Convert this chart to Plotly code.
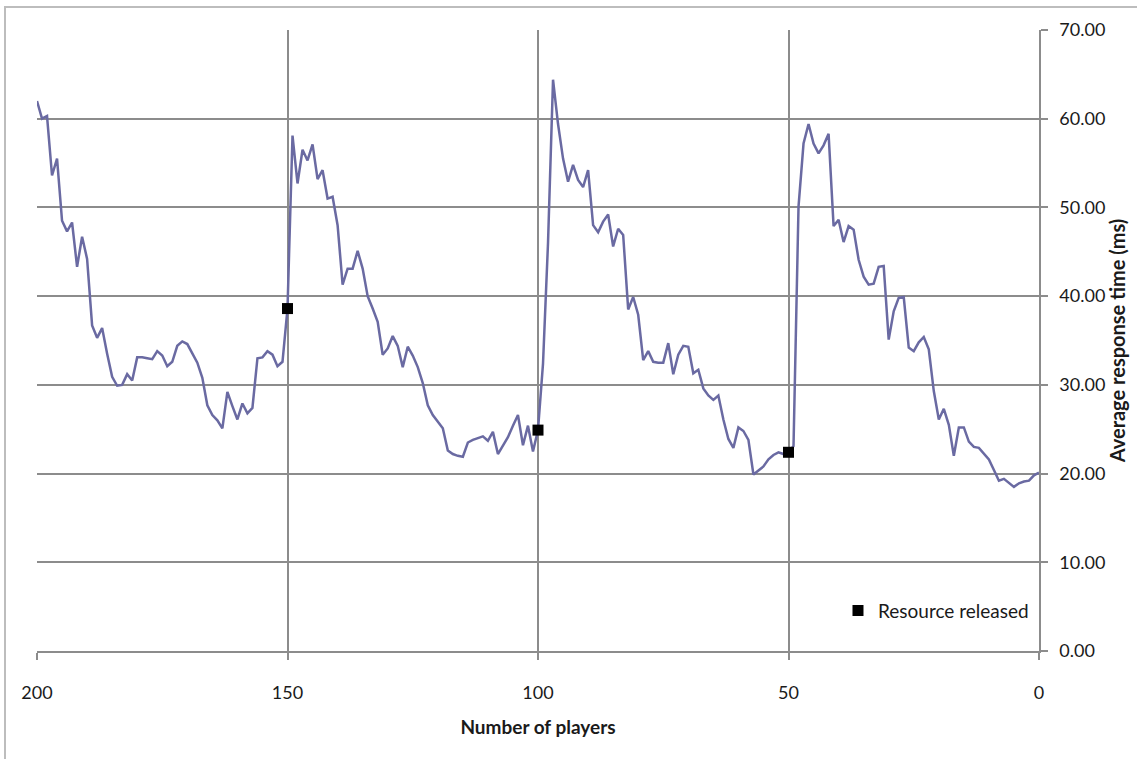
import plotly.graph_objects as go

# Number of players (counting down from 200 to 0)
players = list(range(200, -1, -1))

# Average response time (ms) at each player count, 200 -> 0
response_ms = [
    62.0, 60.0, 60.3, 53.6, 55.5, 48.5, 47.3, 48.3, 43.3, 46.7,   # 200-191
    44.2, 36.7, 35.3, 36.4, 33.5, 30.9, 29.9, 30.0, 31.2, 30.5,   # 190-181
    33.1, 33.1, 33.0, 32.9, 33.8, 33.3, 32.1, 32.6, 34.4, 34.9,   # 180-171
    34.6, 33.6, 32.5, 30.8, 27.7, 26.6, 26.0, 25.1, 29.2, 27.6,   # 170-161
    26.1, 27.9, 26.8, 27.4, 33.0, 33.1, 33.8, 33.4, 32.1, 32.6,   # 160-151
    38.6, 58.1, 52.7, 56.5, 55.3, 57.1, 53.2, 54.2, 51.0, 51.2,   # 150-141
    48.0, 41.3, 43.1, 43.1, 45.1, 43.1, 40.0, 38.6, 37.1, 33.4,   # 140-131
    34.1, 35.5, 34.4, 32.0, 34.3, 33.3, 32.0, 30.2, 27.7, 26.6,   # 130-121
    25.9, 25.1, 22.6, 22.2, 22.0, 21.9, 23.5, 23.8, 24.0, 24.2,   # 120-111
    23.7, 24.7, 22.2, 23.2, 24.1, 25.4, 26.6, 23.2, 25.4, 22.5,   # 110-101
    24.9, 32.4, 46.0, 64.4, 59.4, 55.5, 52.9, 54.8, 53.1, 52.3,   # 100-91
    54.2, 48.0, 47.2, 48.4, 49.2, 45.6, 47.6, 46.9, 38.5, 39.9,   # 90-81
    37.9, 32.8, 33.8, 32.6, 32.5, 32.5, 34.7, 31.2, 33.4, 34.4,   # 80-71
    34.3, 31.3, 31.7, 29.6, 28.8, 28.3, 28.8, 26.1, 23.9, 22.9,   # 70-61
    25.2, 24.8, 23.8, 19.9, 20.3, 20.8, 21.6, 22.1, 22.4, 22.2,   # 60-51
    22.4, 23.1, 50.1, 57.2, 59.4, 57.2, 56.1, 57.0, 58.3, 47.9,   # 50-41
    48.6, 46.1, 47.9, 47.5, 44.1, 42.2, 41.3, 41.4, 43.3, 43.4,   # 40-31
    35.1, 38.3, 39.8, 39.9, 34.2, 33.8, 34.8, 35.4, 34.0, 29.3,   # 30-21
    26.1, 27.3, 25.5, 22.0, 25.2, 25.2, 23.6, 23.0, 22.9, 22.3,   # 20-11
    21.6, 20.4, 19.2, 19.4, 19.0, 18.5, 18.9, 19.1, 19.2, 19.8,   # 10-1
    20.1,                                                         # 0
]

# Player counts at which a resource was released
released_at = [150, 100, 50]
released_ms = [response_ms[players.index(p)] for p in released_at]

x_ticks = [200, 150, 100, 50, 0]
y_ticks = [0, 10, 20, 30, 40, 50, 60, 70]

FONT = "Lato, 'Open Sans', sans-serif"
GRID = "#8c8c8c"

fig = go.Figure()

fig.add_trace(go.Scatter(
    x=players, y=response_ms, mode="lines",
    line=dict(color="#6a6aa2", width=2.5),
    showlegend=False, hoverinfo="x+y",
))

fig.add_trace(go.Scatter(
    x=released_at, y=released_ms, mode="markers",
    name="Resource released",
    marker=dict(symbol="square", size=11, color="#000000"),
))

fig.update_layout(
    width=1137, height=759,
    margin=dict(l=37, r=98, t=30, b=108),
    paper_bgcolor="white", plot_bgcolor="white",
    font=dict(family=FONT, size=18, color="#1a1a1a"),
    legend=dict(
        x=0.995, y=0.065, xanchor="right", yanchor="middle",
        bgcolor="rgba(255,255,255,0)", font=dict(size=19),
        itemwidth=30, tracegroupgap=0,
    ),
    shapes=[dict(
        type="rect", xref="paper", yref="paper",
        x0=(5 - 37) / 1002, x1=(1140 - 37) / 1002,
        y0=(651 - 762) / 621, y1=1 + (30 - 7) / 621,
        line=dict(color="#bdbdbd", width=2), layer="below",
    )],
)

fig.update_xaxes(
    range=[200, 0], tickvals=x_ticks, ticktext=[str(v) for v in x_ticks],
    showgrid=True, gridcolor=GRID, gridwidth=1.5,
    showline=True, linecolor=GRID, linewidth=1.5,
    ticks="outside", ticklen=7, tickcolor=GRID, tickwidth=1.5,
    ticklabelstandoff=18, zeroline=False, automargin=False,
    title=dict(text="<b>Number of players</b>", font=dict(size=19), standoff=18),
)

fig.update_yaxes(
    side="right", range=[0, 70], tickvals=y_ticks,
    tickformat=".2f",
    showgrid=True, gridcolor=GRID, gridwidth=1.5,
    showline=True, linecolor=GRID, linewidth=1.5,
    ticks="outside", ticklen=7, tickcolor=GRID, tickwidth=1.5,
    ticklabelstandoff=8, zeroline=False, automargin=False,
    title=dict(text="<b>Average response time (ms)</b>", font=dict(size=20), standoff=6),
)

fig.write_html("out.html")
